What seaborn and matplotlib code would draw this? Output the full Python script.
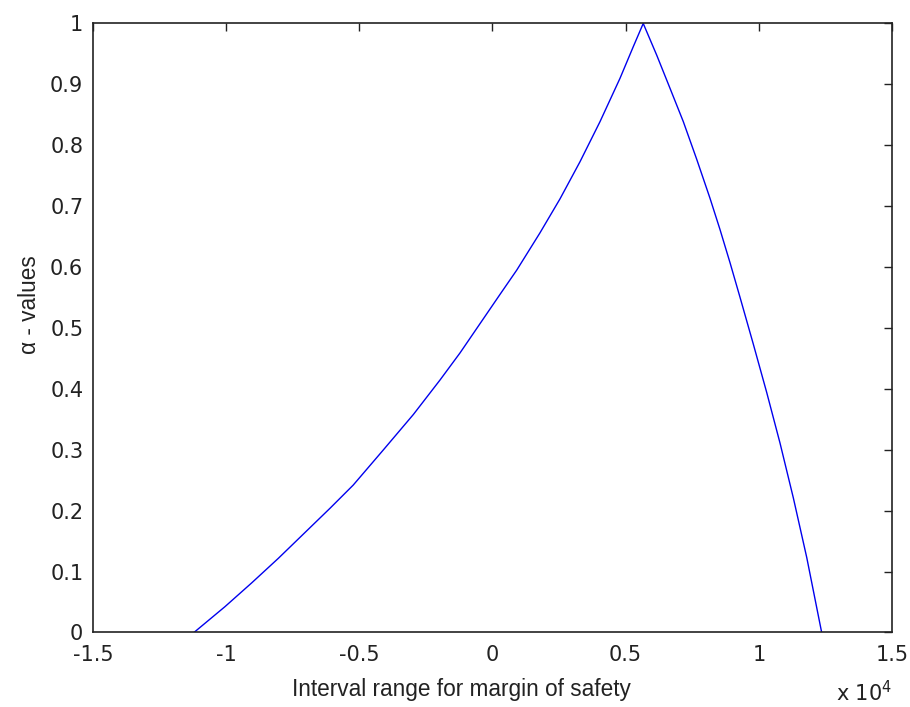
import matplotlib
matplotlib.use("Agg")
import matplotlib.pyplot as plt
import seaborn as sns
import pandas as pd
from matplotlib.ticker import FuncFormatter

# Data (x in real units, axis shown as x 10^4)
margin = [-11210, -10045, -9040, -8040, -6100, -5230, -4100, -2970, -1970, -1220,
          -345, 280, 910, 1780, 2535, 3286, 4037, 4788, 5287, 5660,
          6166, 6665, 7165, 7668, 8167, 8540, 8920, 9290, 9790, 10297,
          10796, 11296, 11800, 12360]
alpha = [0.0, 0.0424, 0.0815, 0.1218, 0.204, 0.242, 0.2997, 0.358, 0.4146, 0.459,
         0.515, 0.555, 0.595, 0.656, 0.712, 0.773, 0.8388, 0.910, 0.962, 1.0,
         0.948, 0.8936, 0.8388, 0.777, 0.713, 0.662, 0.607, 0.551, 0.474, 0.394,
         0.311, 0.221, 0.123, 0.0]

xticks = [-15000, -10000, -5000, 0, 5000, 10000, 15000]
yticks = [0, 0.1, 0.2, 0.3, 0.4, 0.5, 0.6, 0.7, 0.8, 0.9, 1.0]

sns.set_style("white")
plt.rcParams['font.family'] = ['DejaVu Sans']

fig = plt.figure(figsize=(9.1, 7.07), dpi=100)
ax = fig.add_axes([0.1022, 0.1054, 0.878, 0.8614])

df = pd.DataFrame({"margin": margin, "alpha": alpha})
sns.lineplot(data=df, x="margin", y="alpha", ax=ax, color="#0000ee",
             linewidth=1.0, estimator=None, sort=False)

ax.set_xlim(-15000, 15000)
ax.set_ylim(0, 1)
ax.set_xticks(xticks)
ax.set_yticks(yticks)
ax.xaxis.set_major_formatter(FuncFormatter(lambda v, p: f"{v/1e4:g}"))
ax.yaxis.set_major_formatter(FuncFormatter(lambda v, p: f"{v:g}"))
ax.tick_params(direction="in", length=6, width=1.0, top=True, right=True,
               labelsize=15, colors="#222222")
ax.tick_params(axis="x", pad=9)
ax.tick_params(axis="y", pad=7)
for s in ax.spines.values():
    s.set_visible(True)
    s.set_color("#222222")
    s.set_linewidth(1.2)

lab_font = dict(fontsize=16.3, color="#222222", family=['Liberation Sans', 'DejaVu Sans'])
ax.set_xlabel("Interval range for margin of safety", **lab_font)
ax.set_ylabel("α - values", **lab_font)
ax.xaxis.set_label_coords(0.4606, -0.075)
ax.yaxis.set_label_coords(-0.065, 0.538)

fig.text(0.919, 0.003, r"x 10$^{4}$", fontsize=15, color="#222222",
         ha="left", va="bottom")

fig.savefig("out.png", dpi=100)
